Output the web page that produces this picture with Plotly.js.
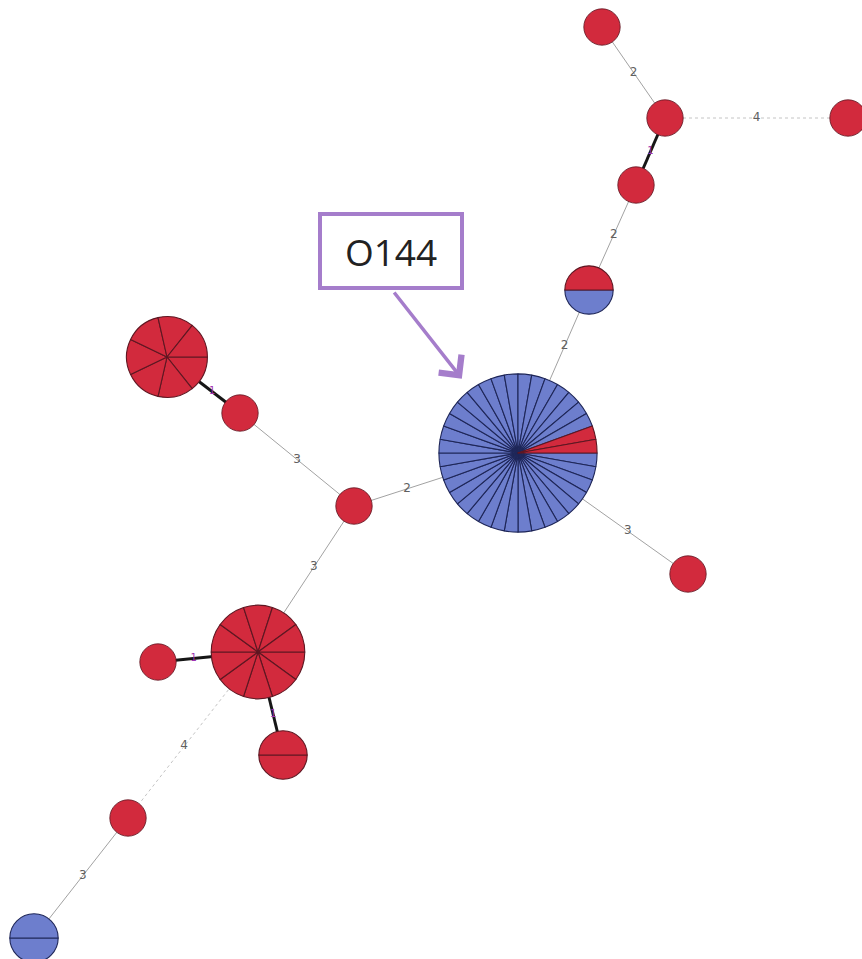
<!DOCTYPE html>
<html><head><meta charset="utf-8">
<script src="https://cdn.plot.ly/plotly-3.0.1.min.js"></script>
<style>
html,body{margin:0;padding:0;background:#fff;overflow:hidden}
#wrap{width:862px;height:959px;overflow:hidden;position:relative;background:#fff}
#chart{width:880px;height:975px}
</style></head>
<body><div id="wrap"><div id="chart"></div></div>
<script>
// ---- data ----
const nodeIds   = ['n1','n2','n3','n4','n5','n6','n7','n8','n9','n10','n11','n12','n13','n14','n15'];
const nodeX     = [602, 665, 848, 636, 589, 518, 167, 240, 354, 258, 158, 283, 128, 34, 688];
const nodeY     = [27, 118, 118, 185, 290, 453, 357, 413, 506, 652, 662, 755, 818, 938, 574];
const nodeRed   = [1, 1, 1, 1, 1, 2, 7, 1, 1, 10, 1, 2, 1, 0, 1];
const nodeBlue  = [0, 0, 0, 0, 1, 34, 0, 0, 0, 0, 0, 0, 0, 2, 0];
const edgeFrom  = [0, 1, 1, 3, 4, 5, 5, 8, 7, 8, 9, 9, 9, 12];
const edgeTo    = [1, 2, 3, 4, 5, 14, 8, 7, 6, 9, 10, 11, 12, 13];
const edgeDist  = [2, 4, 1, 2, 2, 3, 2, 3, 1, 3, 1, 1, 4, 3];
const calloutText = 'O144';
const calloutNode = 5;

// ---- layout constants ----
const W = 880, H = 975;
const RED = '#d22a3d', BLUE = '#6d7ecd';
const RED_LINE = '#5e1722', BLUE_LINE = '#1e2658';
function radius(n){ return 18.2 * Math.pow(n, 0.41); }

const traces = [];

// edges grouped by style
const styles = {
  thick: {color:'#161616', width:3, dash:'solid'},
  thin:  {color:'#a2a2a2', width:1, dash:'solid'},
  dot:   {color:'#c4c4c4', width:1, dash:'dot'}
};
function styleOf(d){ return d === 1 ? 'thick' : (d >= 4 ? 'dot' : 'thin'); }
Object.keys(styles).forEach(k => {
  const xs = [], ys = [];
  edgeDist.forEach((d, i) => {
    if (styleOf(d) !== k) return;
    xs.push(nodeX[edgeFrom[i]], nodeX[edgeTo[i]], null);
    ys.push(nodeY[edgeFrom[i]], nodeY[edgeTo[i]], null);
  });
  traces.push({type:'scatter', mode:'lines', x:xs, y:ys, hoverinfo:'skip',
    line:{color:styles[k].color, width:styles[k].width, dash:styles[k].dash}, showlegend:false});
});

// edge labels at midpoint of the visible segment
const lx = [], ly = [], lt = [], lc = [], ls = [];
edgeDist.forEach((d, i) => {
  const a = edgeFrom[i], b = edgeTo[i];
  const ra = radius(nodeRed[a] + nodeBlue[a]), rb = radius(nodeRed[b] + nodeBlue[b]);
  const dx = nodeX[b] - nodeX[a], dy = nodeY[b] - nodeY[a];
  const L = Math.hypot(dx, dy), ux = dx / L, uy = dy / L;
  const sx = nodeX[a] + ux * ra, sy = nodeY[a] + uy * ra;
  const ex = nodeX[b] - ux * rb, ey = nodeY[b] - uy * rb;
  lx.push((sx + ex) / 2); ly.push((sy + ey) / 2); lt.push(String(d));
  lc.push(d === 1 ? '#a033b0' : '#606060'); ls.push(d === 1 ? 10 : 12);
});
traces.push({type:'scatter', mode:'text', x:lx, y:ly, text:lt, hoverinfo:'skip', showlegend:false,
  textfont:{family:'DejaVu Sans', size:ls, color:lc}});

// nodes as pies: blue slices first clockwise from 3 o'clock, red slices close the circle just above 3 o'clock
nodeIds.forEach((id, i) => {
  const n = nodeRed[i] + nodeBlue[i];
  const r = radius(n);
  const colors = [], lines = [];
  for (let k = 0; k < nodeBlue[i]; k++) { colors.push(BLUE); lines.push(BLUE_LINE); }
  for (let k = 0; k < nodeRed[i]; k++) { colors.push(RED); lines.push(RED_LINE); }
  traces.push({
    type:'pie', name:id, values:new Array(n).fill(1), sort:false,
    direction:'clockwise', rotation:90, textinfo:'none', hoverinfo:'none',
    marker:{colors:colors, line:{color:lines, width: n > 1 ? 1.1 : 0.8}},
    domain:{x:[(nodeX[i] - r) / W, (nodeX[i] + r) / W], y:[1 - (nodeY[i] + r) / H, 1 - (nodeY[i] - r) / H]},
    showlegend:false
  });
});

const PURPLE = '#a57dcb';
const cr = radius(nodeRed[calloutNode] + nodeBlue[calloutNode]);
const layout = {
  width:W, height:H, margin:{l:0, r:0, t:0, b:0},
  paper_bgcolor:'#ffffff', plot_bgcolor:'#ffffff', showlegend:false,
  xaxis:{range:[0, W], visible:false, fixedrange:true},
  yaxis:{range:[H, 0], visible:false, fixedrange:true},
  annotations:[
    {x:391, y:251, xref:'x', yref:'y', text:calloutText, showarrow:false,
     font:{family:'Open Sans', size:37, color:'#222222'},
     width:136, height:68, bgcolor:'#ffffff', bordercolor:PURPLE, borderwidth:4, borderpad:1},
    {x:nodeX[calloutNode] - 0.71 * cr, y:nodeY[calloutNode] - 0.94 * cr, xref:'x', yref:'y',
     ax:393, ay:291, axref:'x', ayref:'y', text:'', showarrow:true,
     arrowhead:4, arrowsize:1.6, arrowwidth:3.5, arrowcolor:PURPLE, standoff:0}
  ]
};
Plotly.newPlot('chart', traces, layout, {staticPlot:true, displayModeBar:false});
</script>
</body></html>
